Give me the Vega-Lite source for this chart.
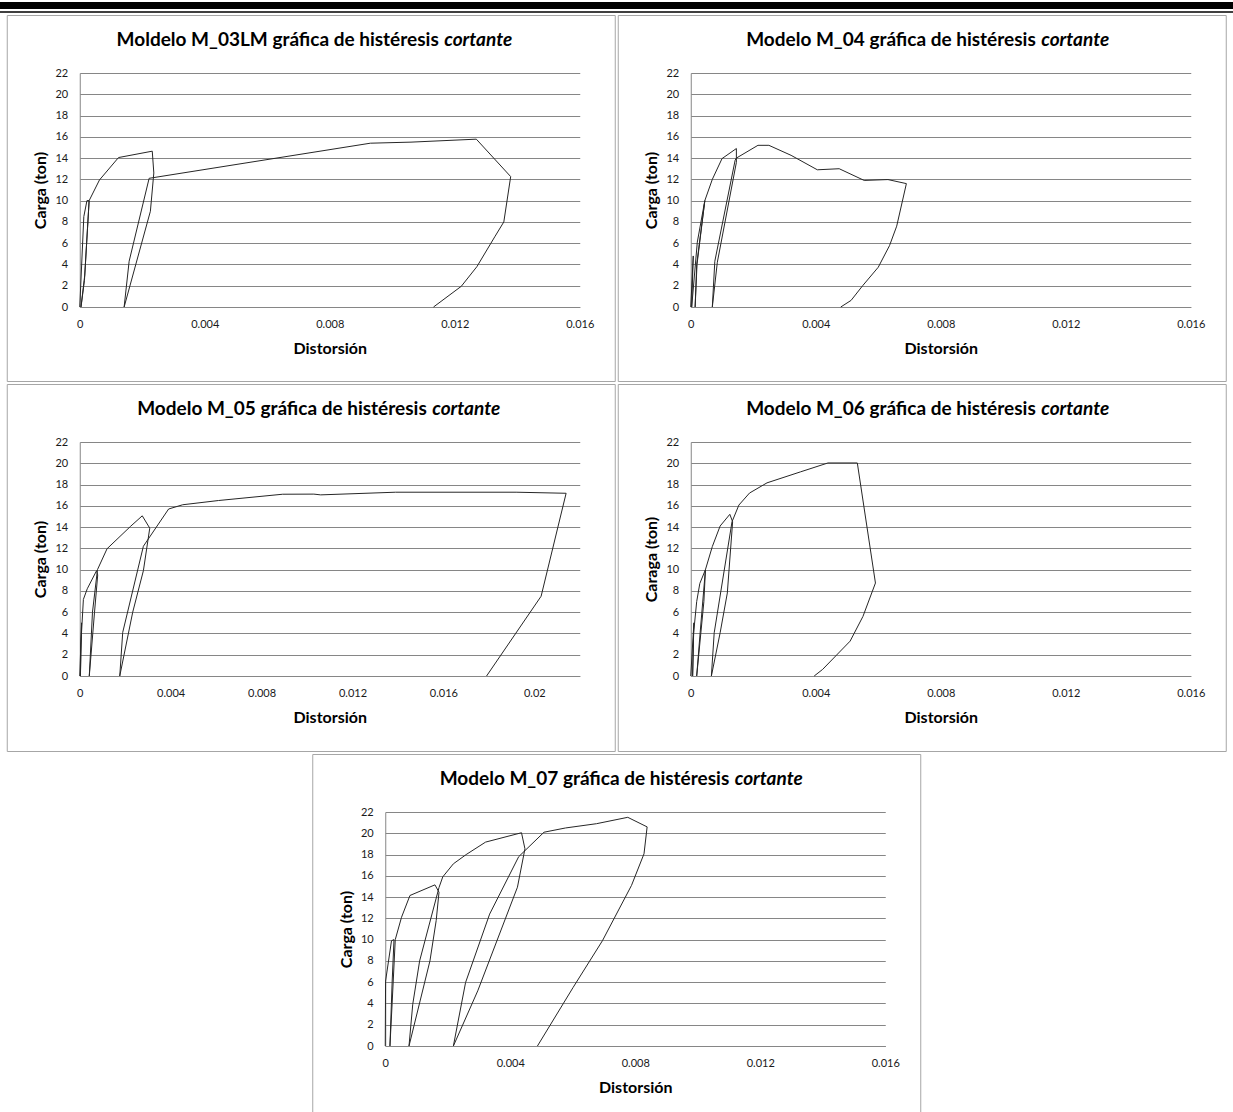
{
  "$schema": "https://vega.github.io/schema/vega-lite/v6.json",
  "padding": 0,
  "background": "white",
  "datasets": {
    "p1": [
      {"i":1,"d":0,"c":0},{"i":2,"d":0.00013,"c":8.5},{"i":3,"d":0.00023,"c":10},{"i":4,"d":0.0003,"c":10},
      {"i":5,"d":0.00015,"c":2.5},{"i":6,"d":0.00004,"c":0},{"i":7,"d":0.00016,"c":3},{"i":8,"d":0.0003,"c":10},
      {"i":9,"d":0.00063,"c":11.94},{"i":10,"d":0.00124,"c":14.05},{"i":11,"d":0.00232,"c":14.65},{"i":12,"d":0.00237,"c":12.6},
      {"i":13,"d":0.00226,"c":9.0},{"i":14,"d":0.00142,"c":0},{"i":15,"d":0.00158,"c":4.3},{"i":16,"d":0.00222,"c":12.1},
      {"i":17,"d":0.0093,"c":15.4},{"i":18,"d":0.0106,"c":15.5},{"i":19,"d":0.01269,"c":15.78},{"i":20,"d":0.01379,"c":12.26},
      {"i":21,"d":0.01357,"c":8.0},{"i":22,"d":0.01328,"c":6.6},{"i":23,"d":0.01271,"c":3.8},{"i":24,"d":0.01221,"c":1.95},
      {"i":25,"d":0.01132,"c":0}
    ],
    "p2": [
      {"i":1,"d":0,"c":0},{"i":2,"d":0.00008,"c":4.8},{"i":3,"d":0.00003,"c":0},{"i":4,"d":0.00021,"c":6.1},
      {"i":5,"d":0.00045,"c":10},{"i":6,"d":0.0002,"c":4},{"i":7,"d":0.00014,"c":0},{"i":8,"d":0.00019,"c":4},
      {"i":9,"d":0.00045,"c":10},{"i":10,"d":0.00069,"c":12},{"i":11,"d":0.001,"c":13.95},{"i":12,"d":0.00146,"c":14.9},
      {"i":13,"d":0.00146,"c":13.6},{"i":14,"d":0.00085,"c":4.2},{"i":15,"d":0.00069,"c":0},{"i":16,"d":0.00077,"c":4.3},
      {"i":17,"d":0.00142,"c":13.8},{"i":18,"d":0.00146,"c":14},{"i":19,"d":0.00215,"c":15.2},{"i":20,"d":0.0025,"c":15.2},
      {"i":21,"d":0.00321,"c":14.26},{"i":22,"d":0.00405,"c":12.9},{"i":23,"d":0.00475,"c":13.0},{"i":24,"d":0.00555,"c":11.9},
      {"i":25,"d":0.00631,"c":11.98},{"i":26,"d":0.0069,"c":11.6},{"i":27,"d":0.00659,"c":7.6},{"i":28,"d":0.00636,"c":5.77},
      {"i":29,"d":0.006,"c":3.74},{"i":30,"d":0.0055,"c":2.0},{"i":31,"d":0.00513,"c":0.62},{"i":32,"d":0.0048,"c":0}
    ],
    "p3": [
      {"i":1,"d":0,"c":0},{"i":2,"d":0.00008,"c":5},{"i":3,"d":0.00003,"c":0},{"i":4,"d":0.00005,"c":3},
      {"i":5,"d":0.00016,"c":7.2},{"i":6,"d":0.00033,"c":8.2},{"i":7,"d":0.00074,"c":9.9},{"i":8,"d":0.00079,"c":9.5},
      {"i":9,"d":0.00065,"c":6},{"i":10,"d":0.00042,"c":0},{"i":11,"d":0.00056,"c":6},{"i":12,"d":0.00078,"c":10},
      {"i":13,"d":0.0012,"c":11.96},{"i":14,"d":0.00224,"c":14.08},{"i":15,"d":0.00275,"c":15.06},{"i":16,"d":0.00308,"c":13.9},
      {"i":17,"d":0.0028,"c":9.9},{"i":18,"d":0.00233,"c":6.0},{"i":19,"d":0.00176,"c":0},{"i":20,"d":0.00189,"c":4.1},
      {"i":21,"d":0.0028,"c":12.2},{"i":22,"d":0.00391,"c":15.7},{"i":23,"d":0.00453,"c":16.1},{"i":24,"d":0.00611,"c":16.5},
      {"i":25,"d":0.00893,"c":17.09},{"i":26,"d":0.0103,"c":17.1},{"i":27,"d":0.0106,"c":17.03},{"i":28,"d":0.0139,"c":17.28},
      {"i":29,"d":0.0192,"c":17.28},{"i":30,"d":0.0214,"c":17.18},{"i":31,"d":0.0203,"c":7.5},{"i":32,"d":0.0179,"c":0}
    ],
    "p4": [
      {"i":1,"d":0,"c":0},{"i":2,"d":0.0001,"c":5},{"i":3,"d":0.00006,"c":0},{"i":4,"d":0.00009,"c":4},
      {"i":5,"d":0.00019,"c":7},{"i":6,"d":0.00029,"c":8.7},{"i":7,"d":0.00047,"c":10},{"i":8,"d":0.00042,"c":7},
      {"i":9,"d":0.00019,"c":0},{"i":10,"d":0.0003,"c":4.06},{"i":11,"d":0.00047,"c":10},{"i":12,"d":0.00069,"c":12.17},
      {"i":13,"d":0.00094,"c":14.1},{"i":14,"d":0.00125,"c":15.2},{"i":15,"d":0.00134,"c":14.5},{"i":16,"d":0.00117,"c":7.8},
      {"i":17,"d":0.00094,"c":4.06},{"i":18,"d":0.00066,"c":0},{"i":19,"d":0.00075,"c":4.06},{"i":20,"d":0.00132,"c":14.5},
      {"i":21,"d":0.00154,"c":16.07},{"i":22,"d":0.00188,"c":17.2},{"i":23,"d":0.00244,"c":18.16},{"i":24,"d":0.00351,"c":19.19},
      {"i":25,"d":0.00439,"c":20.03},{"i":26,"d":0.00533,"c":20.03},{"i":27,"d":0.00591,"c":8.74},{"i":28,"d":0.00551,"c":5.6},
      {"i":29,"d":0.0051,"c":3.28},{"i":30,"d":0.00422,"c":0.62},{"i":31,"d":0.00395,"c":0}
    ],
    "p5": [
      {"i":1,"d":0,"c":0},{"i":2,"d":0.00001,"c":6.1},{"i":3,"d":0.0002,"c":9.9},{"i":4,"d":0.00028,"c":10},
      {"i":5,"d":0.00022,"c":6},{"i":6,"d":0.00015,"c":0},{"i":7,"d":0.00022,"c":4},{"i":8,"d":0.00032,"c":10},
      {"i":9,"d":0.00052,"c":12.1},{"i":10,"d":0.00079,"c":14.15},{"i":11,"d":0.00159,"c":15.15},{"i":12,"d":0.00172,"c":14.46},
      {"i":13,"d":0.00163,"c":11.8},{"i":14,"d":0.00143,"c":8.0},{"i":15,"d":0.00076,"c":0},{"i":16,"d":0.00088,"c":3.93},
      {"i":17,"d":0.0011,"c":8.0},{"i":18,"d":0.00172,"c":14.9},{"i":19,"d":0.00184,"c":15.9},{"i":20,"d":0.00218,"c":17.13},
      {"i":21,"d":0.00259,"c":18.0},{"i":22,"d":0.00321,"c":19.17},{"i":23,"d":0.00436,"c":20.05},{"i":24,"d":0.00447,"c":18.54},
      {"i":25,"d":0.00423,"c":14.93},{"i":26,"d":0.00296,"c":5.19},{"i":27,"d":0.00218,"c":0},{"i":28,"d":0.00257,"c":5.97},
      {"i":29,"d":0.00334,"c":12.4},{"i":30,"d":0.00427,"c":17.8},{"i":31,"d":0.00508,"c":20.1},{"i":32,"d":0.00577,"c":20.5},
      {"i":33,"d":0.00676,"c":20.9},{"i":34,"d":0.00776,"c":21.5},{"i":35,"d":0.00838,"c":20.6},{"i":36,"d":0.00828,"c":18.07},
      {"i":37,"d":0.00788,"c":15.1},{"i":38,"d":0.00695,"c":9.9},{"i":39,"d":0.00601,"c":5.5},{"i":40,"d":0.00487,"c":0}
    ]
  },
  "config": {
    "view": {"stroke": "#a6a6a6", "strokeWidth": 1},
    "font": "Lato",
    "title": {"font": "Lato", "fontSize": 19, "fontWeight": "bold", "color": "#000", "anchor": "end", "frame": "group", "baseline": "alphabetic", "offset": -35},
    "axis": {"labelFont": "Lato", "labelFontSize": 11, "labelColor": "#1a1a1a", "titleFont": "Lato", "titleFontSize": 16, "titleFontWeight": "bold", "titleColor": "#000", "ticks": false, "domainColor": "#868686", "gridColor": "#868686", "labelFlush": false, "labelOverlap": false},
    "axisX": {"grid": false},
    "axisY": {"grid": true}
  },
  "vconcat": [
    {
      "width": 1233, "height": 13,
      "view": {"stroke": null},
      "data": {"values": [{}]},
      "layer": [
        {"mark": {"type": "rect", "color": "#000"}, "encoding": {"y": {"datum": 2, "type": "quantitative", "scale": {"domain": [0, 13], "reverse": true}, "axis": null}, "y2": {"datum": 9}}},
        {"mark": {"type": "rect", "color": "#000"}, "encoding": {"y": {"datum": 11.25, "type": "quantitative", "axis": null}, "y2": {"datum": 12.75}}}
      ]
    },
    {
      "hconcat": [
        {
          "width": 608, "height": 366,
          "title": {"text": "Moldelo M_03LM gráfica de histéresis", "dx": -176},
          "data": {"name": "p1"},
          "layer": [
            {"mark": {"type": "line", "color": "#262626", "strokeWidth": 1},
             "encoding": {
               "x": {"field": "d", "type": "quantitative", "scale": {"domain": [0, 0.016], "range": [73, 573], "nice": false, "zero": false}, "axis": {"orient": "bottom", "offset": -74, "values": [0, 0.004, 0.008, 0.012, 0.016], "format": ".3~f", "labelPadding": 11, "title": "Distorsión", "titlePadding": 11}},
               "y": {"field": "c", "type": "quantitative", "scale": {"domain": [0, 22], "range": [292, 58], "nice": false}, "axis": {"orient": "left", "offset": -73, "values": [0,2,4,6,8,10,12,14,16,18,20,22], "labelPadding": 12, "title": "Carga (ton)", "titlePadding": 6}},
               "order": {"field": "i", "type": "quantitative"}}},
            {"mark": {"type": "line", "opacity": 0, "strokeWidth": 0},
             "encoding": {
               "x": {"field": "d", "type": "quantitative", "scale": {"domain": [0, 0.016], "range": [73, 573], "nice": false, "zero": false}, "axis": {"orient": "top", "labels": false, "domain": false, "grid": false, "title": "cortante", "titleFontStyle": "italic", "titleFontSize": 19, "titleX": 437, "titleY": 30, "titleAlign": "left", "titleBaseline": "alphabetic", "titleAngle": 0}},
               "order": {"field": "i", "type": "quantitative"}}}
          ],
          "resolve": {"axis": {"x": "independent"}}
        },
        {
          "width": 608, "height": 366,
          "title": {"text": "Modelo M_04 gráfica de histéresis", "dx": -190},
          "data": {"name": "p2"},
          "layer": [
            {"mark": {"type": "line", "color": "#262626", "strokeWidth": 1},
             "encoding": {
               "x": {"field": "d", "type": "quantitative", "scale": {"domain": [0, 0.016], "range": [73, 573], "nice": false, "zero": false}, "axis": {"orient": "bottom", "offset": -74, "values": [0, 0.004, 0.008, 0.012, 0.016], "format": ".3~f", "labelPadding": 11, "title": "Distorsión", "titlePadding": 11}},
               "y": {"field": "c", "type": "quantitative", "scale": {"domain": [0, 22], "range": [292, 58], "nice": false}, "axis": {"orient": "left", "offset": -73, "values": [0,2,4,6,8,10,12,14,16,18,20,22], "labelPadding": 12, "title": "Carga (ton)", "titlePadding": 6}},
               "order": {"field": "i", "type": "quantitative"}}},
            {"mark": {"type": "line", "opacity": 0, "strokeWidth": 0},
             "encoding": {
               "x": {"field": "d", "type": "quantitative", "scale": {"domain": [0, 0.016], "range": [73, 573], "nice": false, "zero": false}, "axis": {"orient": "top", "labels": false, "domain": false, "grid": false, "title": "cortante", "titleFontStyle": "italic", "titleFontSize": 19, "titleX": 423, "titleY": 30, "titleAlign": "left", "titleBaseline": "alphabetic", "titleAngle": 0}},
               "order": {"field": "i", "type": "quantitative"}}}
          ],
          "resolve": {"axis": {"x": "independent"}}
        }
      ],
      "spacing": 1
    },
    {
      "hconcat": [
        {
          "width": 608, "height": 367,
          "title": {"text": "Modelo M_05 gráfica de histéresis", "dx": -188},
          "data": {"name": "p3"},
          "layer": [
            {"mark": {"type": "line", "color": "#262626", "strokeWidth": 1},
             "encoding": {
               "x": {"field": "d", "type": "quantitative", "scale": {"domain": [0, 0.022], "range": [73, 573], "nice": false, "zero": false}, "axis": {"orient": "bottom", "offset": -75, "values": [0, 0.004, 0.008, 0.012, 0.016, 0.02], "format": ".3~f", "labelPadding": 11, "title": "Distorsión", "titlePadding": 11}},
               "y": {"field": "c", "type": "quantitative", "scale": {"domain": [0, 22], "range": [292, 58], "nice": false}, "axis": {"orient": "left", "offset": -73, "values": [0,2,4,6,8,10,12,14,16,18,20,22], "labelPadding": 12, "title": "Carga (ton)", "titlePadding": 6}},
               "order": {"field": "i", "type": "quantitative"}}},
            {"mark": {"type": "line", "opacity": 0, "strokeWidth": 0},
             "encoding": {
               "x": {"field": "d", "type": "quantitative", "scale": {"domain": [0, 0.022], "range": [73, 573], "nice": false, "zero": false}, "axis": {"orient": "top", "labels": false, "domain": false, "grid": false, "title": "cortante", "titleFontStyle": "italic", "titleFontSize": 19, "titleX": 425, "titleY": 30, "titleAlign": "left", "titleBaseline": "alphabetic", "titleAngle": 0}},
               "order": {"field": "i", "type": "quantitative"}}}
          ],
          "resolve": {"axis": {"x": "independent"}}
        },
        {
          "width": 608, "height": 367,
          "title": {"text": "Modelo M_06 gráfica de histéresis", "dx": -190},
          "data": {"name": "p4"},
          "layer": [
            {"mark": {"type": "line", "color": "#262626", "strokeWidth": 1},
             "encoding": {
               "x": {"field": "d", "type": "quantitative", "scale": {"domain": [0, 0.016], "range": [73, 573], "nice": false, "zero": false}, "axis": {"orient": "bottom", "offset": -75, "values": [0, 0.004, 0.008, 0.012, 0.016], "format": ".3~f", "labelPadding": 11, "title": "Distorsión", "titlePadding": 11}},
               "y": {"field": "c", "type": "quantitative", "scale": {"domain": [0, 22], "range": [292, 58], "nice": false}, "axis": {"orient": "left", "offset": -73, "values": [0,2,4,6,8,10,12,14,16,18,20,22], "labelPadding": 12, "title": "Caraga (ton)", "titlePadding": 6}},
               "order": {"field": "i", "type": "quantitative"}}},
            {"mark": {"type": "line", "opacity": 0, "strokeWidth": 0},
             "encoding": {
               "x": {"field": "d", "type": "quantitative", "scale": {"domain": [0, 0.016], "range": [73, 573], "nice": false, "zero": false}, "axis": {"orient": "top", "labels": false, "domain": false, "grid": false, "title": "cortante", "titleFontStyle": "italic", "titleFontSize": 19, "titleX": 423, "titleY": 30, "titleAlign": "left", "titleBaseline": "alphabetic", "titleAngle": 0}},
               "order": {"field": "i", "type": "quantitative"}}}
          ],
          "resolve": {"axis": {"x": "independent"}}
        }
      ],
      "spacing": 1
    },
    {
      "width": 608, "height": 360,
      "title": {"text": "Modelo M_07 gráfica de histéresis", "dx": -191},
      "data": {"name": "p5"},
      "layer": [
        {"mark": {"type": "line", "color": "#262626", "strokeWidth": 1},
         "encoding": {
           "x": {"field": "d", "type": "quantitative", "scale": {"domain": [0, 0.016], "range": [73, 573], "nice": false, "zero": false}, "axis": {"orient": "bottom", "offset": -68, "values": [0, 0.004, 0.008, 0.012, 0.016], "format": ".3~f", "labelPadding": 11, "title": "Distorsión", "titlePadding": 11}},
           "y": {"field": "c", "type": "quantitative", "scale": {"domain": [0, 22], "range": [292, 58], "nice": false}, "axis": {"orient": "left", "offset": -73, "values": [0,2,4,6,8,10,12,14,16,18,20,22], "labelPadding": 12, "title": "Carga (ton)", "titlePadding": 6}},
           "order": {"field": "i", "type": "quantitative"}}},
        {"mark": {"type": "line", "opacity": 0, "strokeWidth": 0},
         "encoding": {
           "x": {"field": "d", "type": "quantitative", "scale": {"domain": [0, 0.016], "range": [73, 573], "nice": false, "zero": false}, "axis": {"orient": "top", "labels": false, "domain": false, "grid": false, "title": "cortante", "titleFontStyle": "italic", "titleFontSize": 19, "titleX": 422, "titleY": 30, "titleAlign": "left", "titleBaseline": "alphabetic", "titleAngle": 0}},
           "order": {"field": "i", "type": "quantitative"}}}
      ],
      "resolve": {"axis": {"x": "independent"}}
    }
  ],
  "spacing": 1,
  "center": true
}
